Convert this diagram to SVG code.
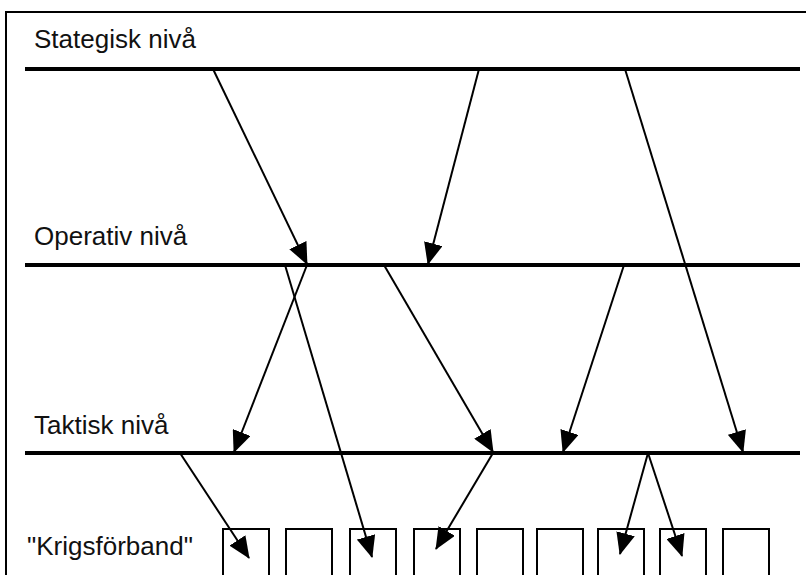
<svg xmlns="http://www.w3.org/2000/svg" width="806" height="575" viewBox="0 0 806 575">
<style>
.lbl{font-family:"Liberation Sans",Arial,sans-serif;font-size:26px;fill:#111}
.lvl{stroke:#000;stroke-width:4}
.box{fill:#fff;stroke:#000;stroke-width:2}
.con{stroke:#000;stroke-width:2;fill:none;marker-end:url(#ah)}
</style>
<defs>
<marker id="ah" markerUnits="userSpaceOnUse" markerWidth="22" markerHeight="19" viewBox="0 0 22 19" refX="21" refY="9.5" orient="auto">
<path d="M0,0 L22,9.5 L0,19 Z" fill="#000"/>
</marker>
</defs>
<rect x="6" y="12" width="820" height="600" fill="#fff" stroke="#000" stroke-width="2"/>
<g id="strategisk">
<text class="lbl" x="34" y="48">Stategisk nivå</text>
<line class="lvl" x1="25" y1="69" x2="800" y2="69"/>
</g>
<g id="operativ">
<text class="lbl" x="34" y="245">Operativ nivå</text>
<line class="lvl" x1="25" y1="265" x2="800" y2="265"/>
</g>
<g id="taktisk">
<text class="lbl" x="34" y="434">Taktisk nivå</text>
<line class="lvl" x1="25" y1="453" x2="800" y2="453"/>
</g>
<g id="krigsforband">
<text class="lbl" x="27" y="555">"Krigsförband"</text>
<rect id="b1" class="box" x="223" y="529" width="46" height="60"/>
<rect id="b2" class="box" x="286" y="529" width="46" height="60"/>
<rect id="b3" class="box" x="350" y="529" width="46" height="60"/>
<rect id="b4" class="box" x="414" y="529" width="46" height="60"/>
<rect id="b5" class="box" x="477" y="529" width="46" height="60"/>
<rect id="b6" class="box" x="537" y="529" width="46" height="60"/>
<rect id="b7" class="box" x="598" y="529" width="46" height="60"/>
<rect id="b8" class="box" x="660" y="529" width="46" height="60"/>
<rect id="b9" class="box" x="723" y="529" width="46" height="60"/>
</g>
<g id="connectors">
<line class="con" x1="213" y1="69" x2="307" y2="264"/>
<line class="con" x1="479" y1="69" x2="428" y2="264"/>
<line class="con" x1="625" y1="69" x2="743" y2="452"/>
<line class="con" x1="307" y1="265" x2="234" y2="452"/>
<line class="con" x1="285" y1="265" x2="372" y2="557"/>
<line class="con" x1="384" y1="265" x2="493" y2="452"/>
<line class="con" x1="624" y1="265" x2="563" y2="452"/>
<line class="con" x1="180" y1="453" x2="249" y2="558"/>
<line class="con" x1="493" y1="453" x2="436" y2="549"/>
<line class="con" x1="648" y1="453" x2="620" y2="554"/>
<line class="con" x1="648" y1="453" x2="682" y2="556"/>
</g>
</svg>
